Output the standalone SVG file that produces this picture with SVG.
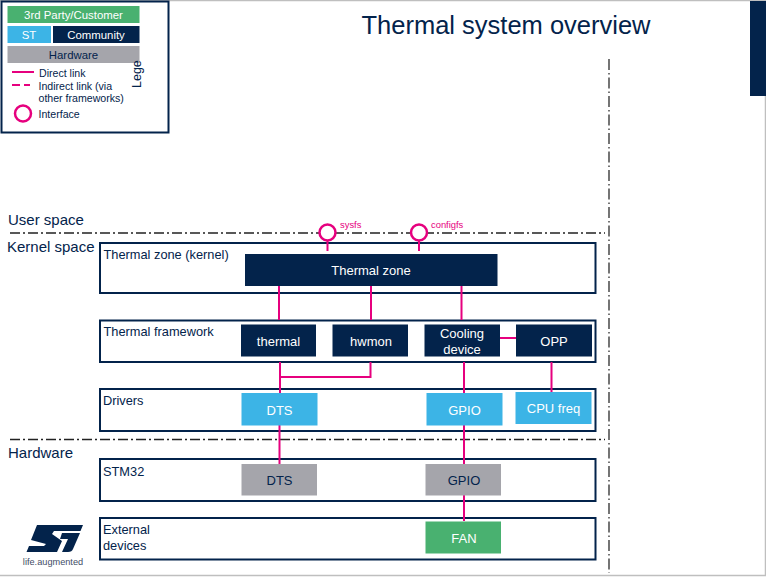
<svg xmlns="http://www.w3.org/2000/svg" width="766" height="577" viewBox="0 0 766 577">
<style>
text{font-family:"Liberation Sans",Arial,sans-serif;fill:#03234b}
.c{text-anchor:middle}
.w{fill:#fff}
.n{font-size:13px}
.l{font-size:12.800px}
.k{font-size:15px}
.lg{font-size:10.600px}
.box{fill:#fff;stroke:#03234b;stroke-width:2}
.navy{fill:#03234b}
.blue{fill:#3cb4e6}
.grey{fill:#a5a5ab}
.green{fill:#49b170}
.link{fill:none;stroke:#e6007e;stroke-width:2}
.ring{fill:#fff;stroke:#e6007e;stroke-width:2.500}
.sep{fill:none;stroke:#222;stroke-width:1.300;stroke-dasharray:10 3 2 3}
.pk{fill:#e6007e;font-size:9.400px}
</style>
<rect width="766" height="577" fill="#fff"/>
<path d="M0 .5H765.500V575.500H0" fill="none" stroke="#bfbfbf" stroke-width="1.500"/>
<rect x="750" y="1" width="16" height="95" class="navy"/>
<text x="506" y="33.500" class="c" style="font-size:25.500px">Thermal system overview</text>

<g id="legend">
<rect x="1.500" y="1.500" width="167" height="131" class="box"/>
<rect x="7.500" y="6" width="132" height="17" class="green"/><text x="73.500" y="19" class="c w" style="font-size:11.400px">3rd Party/Customer</text>
<rect x="7.500" y="26" width="43.500" height="17" class="blue"/><text x="29" y="39" class="c w" style="font-size:11.400px">ST</text>
<rect x="53" y="26" width="86.500" height="17" class="navy"/><text x="96" y="39" class="c w" style="font-size:11.400px">Community</text>
<rect x="7.500" y="46" width="132" height="17" class="grey"/><text x="73.500" y="59" class="c" style="font-size:11.400px">Hardware</text>
<path d="M12 72H34" class="link"/>
<path d="M12 85H20M24 85H30" class="link"/>
<circle cx="23" cy="113.500" r="8" class="ring"/>
<text x="39" y="76.500" class="lg">Direct link</text>
<text x="38.500" y="89.500" class="lg">Indirect link (via</text>
<text x="38.500" y="102" class="lg">other frameworks)</text>
<text x="38.500" y="117.500" class="lg">Interface</text>
<text transform="translate(141 88) rotate(-90)" style="font-size:12.500px">Lege</text>
</g>

<g id="separators">
<path d="M10 233H605" class="sep"/>
<path d="M10 439.500H605" class="sep"/>
<path d="M609 59V573" class="sep" style="stroke:#666;stroke-width:1.800;stroke-dasharray:11 3 1.500 3"/>
</g>
<text x="8" y="225" class="k">User space</text>
<text x="7" y="252" class="k">Kernel space</text>
<text x="8" y="458" class="k">Hardware</text>

<g id="layer-thermal-zone"><rect x="100" y="243" width="495.500" height="50" class="box"/><text x="103.500" y="259" class="l">Thermal zone (kernel)</text></g>
<g id="layer-framework"><rect x="100" y="320.500" width="495.500" height="41.500" class="box"/><text x="103.500" y="336" class="l">Thermal framework</text></g>
<g id="layer-drivers"><rect x="100" y="389" width="495.500" height="42" class="box"/><text x="103" y="405" class="l">Drivers</text></g>
<g id="layer-stm32"><rect x="100" y="459" width="495.500" height="42" class="box"/><text x="103" y="476" class="l">STM32</text></g>
<g id="layer-external"><rect x="100" y="518" width="495.500" height="41.500" class="box"/><text x="103" y="534" class="l">External</text><text x="103" y="550" class="l">devices</text></g>

<g id="connectors">
<path d="M279 286V320M371 286V320M461.500 286V320" class="link"/>
<path d="M280 362V393M280 377H370.500V362M464 362V393M551.500 362V392M500 338H516" class="link"/>
<path d="M279.500 425V464M464 425V464M464 495V521" class="link"/>
<path d="M327.500 241V251M419 241V251" class="link"/>
</g>

<g id="if-sysfs"><circle cx="327.500" cy="232.500" r="8" class="ring"/><text x="340" y="228" class="pk">sysfs</text></g>
<g id="if-configfs"><circle cx="419" cy="232.500" r="8" class="ring"/><text x="431" y="228" class="pk">configfs</text></g>

<g id="thermal-zone"><rect x="245" y="254" width="252.500" height="32" class="navy"/><text x="371" y="275" class="c w n">Thermal zone</text></g>
<g id="thermal"><rect x="241" y="324.500" width="75" height="32" class="navy"/><text x="278.500" y="345.500" class="c w n">thermal</text></g>
<g id="hwmon"><rect x="332.500" y="324.500" width="75.500" height="32" class="navy"/><text x="371" y="345.500" class="c w n">hwmon</text></g>
<g id="cooling-device"><rect x="424.500" y="324.500" width="75.500" height="32" class="navy"/><text x="462" y="338" class="c w n">Cooling</text><text x="462" y="353.500" class="c w n">device</text></g>
<g id="opp"><rect x="516" y="324.500" width="76" height="32" class="navy"/><text x="554" y="345.500" class="c w n">OPP</text></g>
<g id="dts-driver"><rect x="241.500" y="393" width="76" height="32.500" class="blue"/><text x="279.500" y="415" class="c w n">DTS</text></g>
<g id="gpio-driver"><rect x="426.500" y="393" width="76" height="32.500" class="blue"/><text x="464.500" y="415" class="c w n">GPIO</text></g>
<g id="cpu-freq"><rect x="515.500" y="392" width="76" height="32" class="blue"/><text x="553.500" y="413" class="c w n">CPU freq</text></g>
<g id="dts-hw"><rect x="241.500" y="464" width="75.500" height="31.500" class="grey"/><text x="279.500" y="485" class="c n">DTS</text></g>
<g id="gpio-hw"><rect x="425.500" y="464" width="75.500" height="31.500" class="grey"/><text x="464" y="485" class="c n">GPIO</text></g>
<g id="fan"><rect x="425.500" y="521.500" width="75.500" height="32" class="green"/><text x="464" y="543" class="c w n">FAN</text></g>

<g id="logo">
<path d="M37 525H83L80.500 531H54L52 534L62 541L57 552H26.500L29 546H44L46 544L31 540Z" class="navy"/>
<path d="M62 533H80L73 549Q72 552 68 552H62L68 539H60Z" class="navy"/>
<text x="53" y="564.500" class="c" style="font-size:9.200px;fill:#3f4d66">life.augmented</text>
</g>
</svg>
